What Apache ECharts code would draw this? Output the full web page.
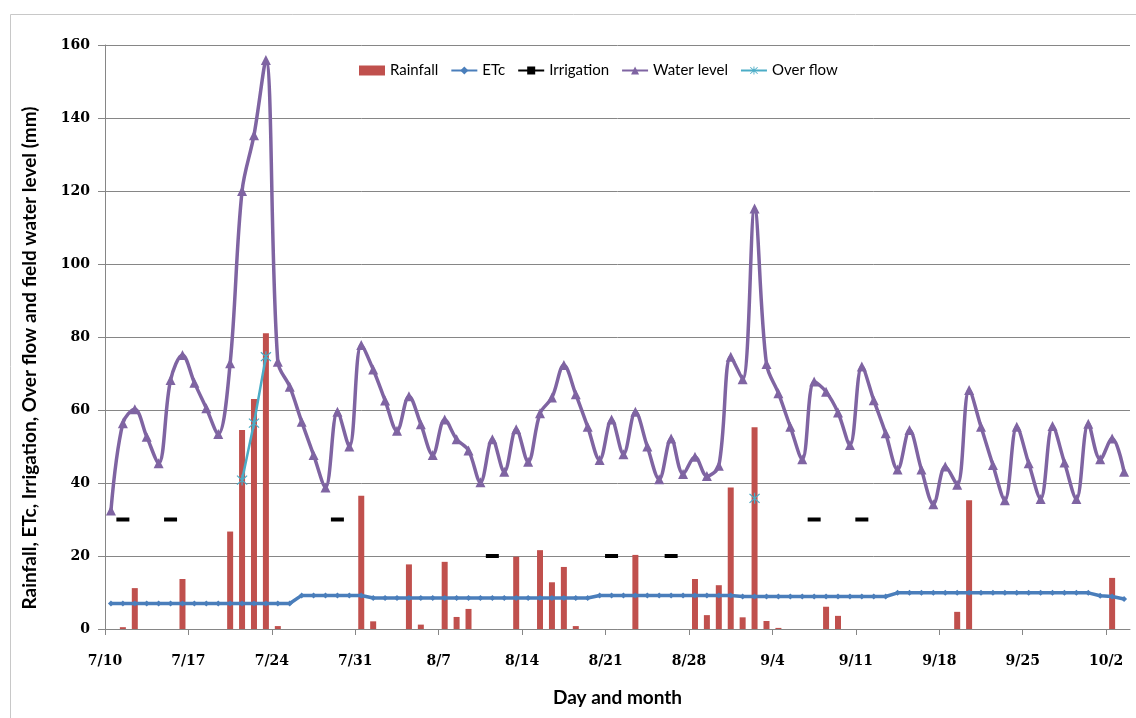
<!DOCTYPE html>
<html>
<head>
<meta charset="utf-8">
<script src="https://cdn.jsdelivr.net/npm/echarts@6/dist/echarts.min.js"></script>
<style>
html,body{margin:0;padding:0;background:#fff;}
#c{width:1136px;height:718px;}
</style>
</head>
<body>
<div id="c"></div>
<script>
// Day index 0 = 7/10 ... 85 = 10/3
var tickLabels = ['7/10','7/17','7/24','7/31','8/7','8/14','8/21','8/28','9/4','9/11','9/18','9/25','10/2'];
var xTitle = 'Day and month';
var yTitle = 'Rainfall, ETc, Irrigation, Over flow and field water level (mm)';

var rainfall = [
  null, 0.5, 11.2, null, null, null, 13.7, null, null, null,
  26.7, 54.5, 63, 81, 0.8, null, null, null, null, null,
  null, 36.5, 2.1, null, null, 17.7, 1.2, null, 18.4, 3.3,
  5.5, null, null, null, 19.8, null, 21.6, 12.8, 17, 0.8,
  null, null, null, null, 20.3, null, null, null, null, 13.7,
  3.8, 12, 38.8, 3.2, 55.3, 2.2, 0.3, null, null, null,
  6.1, 3.6, null, null, null, null, null, null, null, null,
  null, 4.7, 35.3, null, null, null, null, null, null, null,
  null, null, null, null, 14, null
];

var etc = [
  7.0, 7.0, 7.0, 7.0, 7.0, 7.0, 7.0, 7.0, 7.0, 7.0,
  7.0, 7.0, 7.0, 7.0, 7.0, 7.0, 9.2, 9.2, 9.2, 9.2,
  9.2, 9.2, 8.5, 8.5, 8.5, 8.5, 8.5, 8.5, 8.5, 8.5,
  8.5, 8.5, 8.5, 8.5, 8.5, 8.5, 8.5, 8.5, 8.5, 8.5,
  8.5, 9.2, 9.2, 9.2, 9.2, 9.2, 9.2, 9.2, 9.2, 9.2,
  9.2, 9.2, 9.2, 8.9, 8.9, 8.9, 8.9, 8.9, 8.9, 8.9,
  8.9, 8.9, 8.9, 8.9, 8.9, 8.9, 9.9, 9.9, 9.9, 9.9,
  9.9, 9.9, 9.9, 9.9, 9.9, 9.9, 9.9, 9.9, 9.9, 9.9,
  9.9, 9.9, 9.9, 9.1, 8.9, 8.2
];

var irrigation = [
  null, 30, null, null, null, 30, null, null, null, null,
  null, null, null, null, null, null, null, null, null, 30,
  null, null, null, null, null, null, null, null, null, null,
  null, null, 20, null, null, null, null, null, null, null,
  null, null, 20, null, null, null, null, 20, null, null,
  null, null, null, null, null, null, null, null, null, 30,
  null, null, null, 30, null, null, null, null, null, null,
  null, null, null, null, null, null, null, null, null, null,
  null, null, null, null, null, null
];

var waterLevel = [
  32.5, 56.4, 60.2, 52.7, 45.4, 68.2, 75.1, 67.5, 60.5, 53.4,
  72.8, 120, 135.3, 155.9, 73.2, 66.4, 56.8, 47.7, 38.8, 59.5,
  50, 77.8, 71.1, 62.6, 54.3, 63.8, 56.1, 47.7, 57.4, 52,
  48.9, 40.2, 52, 43.1, 54.7, 45.8, 59.1, 63.4, 72.3, 64.3,
  55.4, 46.3, 57.4, 47.9, 59.5, 50, 41, 52.2, 42.5, 47.2,
  41.9, 44.7, 74.6, 68.4, 115.2, 72.6, 64.6, 55.4, 46.5, 67.8,
  65, 59.3, 50.4, 71.9, 62.7, 53.6, 43.7, 54.5, 43.7, 34.2,
  44.5, 39.5, 65.5, 55.4, 44.9, 35.3, 55.4, 45.4, 35.6, 55.6,
  45.6, 35.6, 56.2, 46.5, 52.2, 43.1
];

var overflow = [
  null, null, null, null, null, null, null, null, null, null,
  null, 40.8, 56.4, 74.6, null, null, null, null, null, null,
  null, null, null, null, null, null, null, null, null, null,
  null, null, null, null, null, null, null, null, null, null,
  null, null, null, null, null, null, null, null, null, null,
  null, null, null, null, 35.8, null, null, null, null, null,
  null, null, null, null, null, null, null, null, null, null,
  null, null, null, null, null, null, null, null, null, null,
  null, null, null, null, null, null
];

function toXY(arr) {
  return arr.map(function (v, i) { return [i + 0.5, v == null ? '-' : v]; });
}
var tickValues = tickLabels.map(function (t, k) { return k * 7; });

var starPath = 'path://M4.5,0 L5.5,0 L5.5,10 L4.5,10 Z M0.6,1.3 L1.3,0.6 L9.4,8.7 L8.7,9.4 Z M8.7,0.6 L9.4,1.3 L1.3,9.4 L0.6,8.7 Z';

var chart = echarts.init(document.getElementById('c'), null, {renderer: 'canvas'});
chart.setOption({
  animation: false,
  backgroundColor: '#fff',
  graphic: [{
    type: 'rect', left: 8, top: 12,
    shape: {x: 0, y: 0, width: 1140, height: 704},
    style: {fill: 'none', stroke: '#c8c8c8', lineWidth: 1},
    silent: true, z: -1
  }, {
    type: 'text', x: 30, y: 358, rotation: Math.PI / 2,
    style: {
      text: yTitle, align: 'center', verticalAlign: 'middle',
      font: 'bold 19px Lato', fill: '#000'
    },
    silent: true
  }],
  legend: {
    top: 58, left: 354,
    itemGap: 12, itemWidth: 26, itemHeight: 10,
    textStyle: {fontFamily: 'Lato', fontSize: 15, color: '#000'},
    data: [
      {name: 'Rainfall', icon: 'rect'},
      'ETc', 'Irrigation', 'Water level', 'Over flow'
    ]
  },
  grid: {left: 105, right: 6, top: 45, bottom: 89, containLabel: false},
  xAxis: {
    type: 'value', min: 0, max: 86, interval: 7,
    name: xTitle, nameLocation: 'middle', nameGap: 59,
    nameTextStyle: {fontFamily: 'Lato', fontWeight: 'bold', fontSize: 19, color: '#000'},
    axisLine: {show: true, lineStyle: {color: '#868686', width: 1}},
    axisTick: {show: true, length: 6, inside: false, customValues: tickValues, lineStyle: {color: '#868686'}},
    axisLabel: {
      customValues: tickValues,
      margin: 25,
      fontFamily: 'DejaVu Serif', fontWeight: 'bold', fontSize: 14, color: '#000',
      formatter: function (v) { var k = Math.round(v / 7); return tickLabels[k] || ''; }
    },
    splitLine: {show: false}
  },
  yAxis: {
    type: 'value', min: 0, max: 160, interval: 20,
    axisLine: {show: true, lineStyle: {color: '#868686', width: 1}},
    axisTick: {show: true, length: 7, lineStyle: {color: '#868686'}},
    axisLabel: {margin: 15, fontFamily: 'DejaVu Serif', fontWeight: 'bold', fontSize: 14, color: '#000'},
    splitLine: {show: true, lineStyle: {color: '#868686', width: 1}}
  },
  series: [
    {
      name: 'Rainfall', type: 'bar', data: toXY(rainfall),
      barWidth: 6, itemStyle: {color: '#C0504D'}, z: 1
    },
    {
      name: 'ETc', type: 'line', data: toXY(etc),
      symbol: 'diamond', symbolSize: 6, showAllSymbol: true,
      lineStyle: {color: '#4A7EBB', width: 3.5},
      itemStyle: {color: '#4A7EBB'}, z: 3
    },
    {
      name: 'Irrigation', type: 'line', data: toXY(irrigation),
      symbol: 'rect', symbolSize: [13, 4], showAllSymbol: true, connectNulls: false,
      lineStyle: {color: '#000', width: 3},
      itemStyle: {color: '#000'}, z: 3
    },
    {
      name: 'Water level', type: 'line', data: toXY(waterLevel),
      smooth: 0.35, symbol: 'triangle', symbolSize: 10, showAllSymbol: true,
      lineStyle: {color: '#7F64A2', width: 3.5},
      itemStyle: {color: '#7F64A2'}, z: 4
    },
    {
      name: 'Over flow', type: 'line', data: toXY(overflow),
      symbol: starPath, symbolSize: 11, showAllSymbol: true, connectNulls: false,
      lineStyle: {color: '#4BACC6', width: 2.5},
      itemStyle: {color: '#4BACC6'}, z: 5
    }
  ]
});
</script>
</body>
</html>
